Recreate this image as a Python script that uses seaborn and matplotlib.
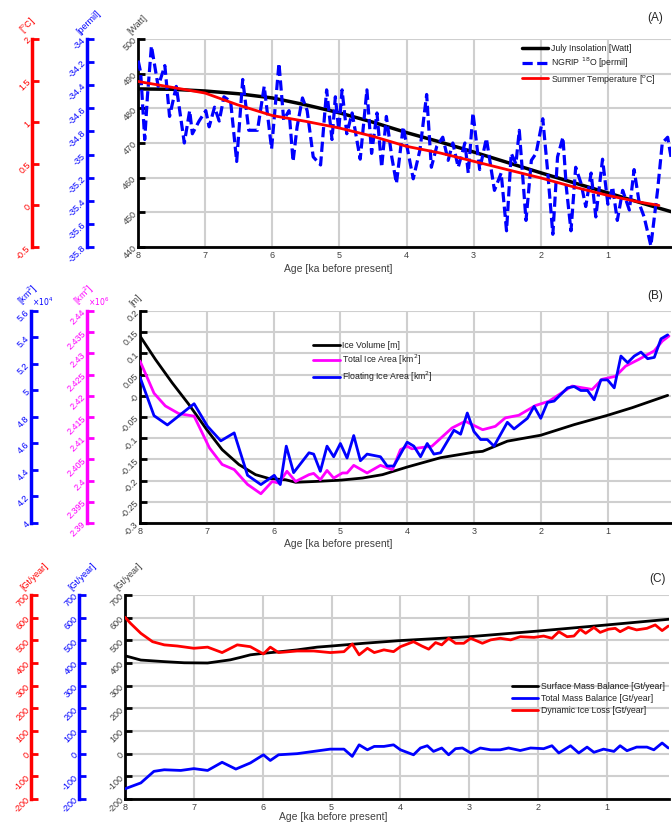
import numpy as np
import matplotlib
matplotlib.use("Agg")
import matplotlib.pyplot as plt
import seaborn as sns
from matplotlib.ticker import FuncFormatter

# ---------------- panel A data
ins_age = [8, 7.5, 7, 6.5, 6, 5.5, 5, 4.5, 4, 3.5, 3, 2.5, 2, 1.5, 1, 0.5, 0.06]
ins_watt = [485.6, 485.5, 485.0, 484.2, 483.0, 481.0, 478.7, 476.0, 473.0, 470.3,
            467.4, 464.4, 461.4, 458.5, 455.6, 452.7, 450.2]

ngrip_age = [8.0, 7.96, 7.90, 7.86, 7.80, 7.70, 7.60, 7.53, 7.43, 7.31,
             7.23, 7.19, 7.09, 6.99, 6.94, 6.86, 6.79, 6.72, 6.62, 6.53,
             6.44, 6.35, 6.22, 6.12, 6.01, 5.90, 5.83, 5.75, 5.69, 5.63,
             5.55, 5.48, 5.39, 5.28, 5.19, 5.11, 5.06, 5.01, 4.96, 4.89,
             4.81, 4.69, 4.59, 4.52, 4.44, 4.37, 4.30, 4.22, 4.15, 4.05,
             3.90, 3.80, 3.70, 3.63, 3.55, 3.46, 3.38, 3.31, 3.23, 3.13,
             3.08, 3.01, 2.91, 2.81, 2.69, 2.59, 2.51, 2.44, 2.37, 2.32,
             2.22, 2.14, 2.07, 1.97, 1.90, 1.82, 1.75, 1.67, 1.62, 1.55,
             1.48, 1.40, 1.33, 1.25, 1.18, 1.08, 1.00, 0.93, 0.86, 0.78,
             0.68, 0.61, 0.53, 0.46, 0.36, 0.26, 0.19, 0.11, 0.06]
ngrip_permil = [-34.18, -34.29, -34.87, -34.50, -34.06, -34.41, -34.23, -34.67, -34.41, -34.90,
                -34.62, -34.82, -34.71, -34.62, -34.76, -34.59, -34.71, -34.50, -34.54, -35.06,
                -34.35, -34.79, -34.79, -34.41, -34.95, -34.21, -34.70, -34.62, -35.06, -34.76,
                -34.51, -34.62, -35.02, -35.09, -34.44, -34.87, -34.50, -34.79, -34.44, -34.82,
                -34.64, -35.04, -34.44, -34.99, -34.64, -35.11, -34.67, -35.02, -35.25, -34.76,
                -35.21, -34.96, -34.48, -35.11, -34.93, -34.85, -35.05, -34.90, -35.11, -34.90,
                -35.16, -34.64, -35.13, -34.86, -35.31, -35.16, -35.66, -34.99, -35.08, -34.79,
                -35.57, -35.05, -34.99, -34.69, -35.13, -35.69, -35.02, -34.85, -35.28, -35.66,
                -35.11, -35.25, -35.45, -35.16, -35.54, -35.04, -35.43, -35.28, -35.57, -35.31,
                -35.48, -35.13, -35.43, -35.54, -35.79, -35.31, -34.90, -34.85, -35.02]

temp_age = [8.0, 7.5, 7.0, 6.52, 6.12, 6.0, 5.5, 5.0, 4.5, 4.0, 3.5, 3.0, 2.5, 2.0, 1.5, 1.0, 0.53, 0.24]
temp_c = [1.49, 1.42, 1.35, 1.21, 1.11, 1.08, 1.01, 0.93, 0.83, 0.71, 0.63, 0.53, 0.43,
          0.33, 0.22, 0.12, 0.04, 0.00]

# ---------------- panel B data
vol_age = [8.0, 7.77, 7.52, 7.27, 7.0, 6.77, 6.52, 6.27, 6.07, 5.82, 5.67, 5.37, 5.0,
           4.67, 4.37, 4.0, 3.5, 3.0, 2.87, 2.5, 2.0, 1.5, 1.0, 0.63, 0.1]
ice_volume = [0.141, 0.086, 0.031, -0.020, -0.080, -0.127, -0.162, -0.186, -0.195, -0.198,
              -0.204, -0.202, -0.199, -0.194, -0.186, -0.168, -0.146, -0.133, -0.131, -0.107,
              -0.093, -0.068, -0.046, -0.028, 0.001]

area_age = [8.0, 7.79, 7.62, 7.42, 7.19, 6.96, 6.77, 6.59, 6.39, 6.19,
            6.02, 5.92, 5.80, 5.67, 5.47, 5.40, 5.30, 5.20, 5.10, 4.97,
            4.90, 4.80, 4.60, 4.40, 4.22, 4.10, 4.0, 3.93, 3.63, 3.33,
            3.13, 2.87, 2.68, 2.53, 2.33, 2.08, 1.88, 1.53, 1.23, 1.08,
            0.88, 0.73, 0.53, 0.30, 0.18, 0.08]
total_area_1e6 = [2.4282, 2.4206, 2.4176, 2.4158, 2.4152, 2.4077, 2.4038, 2.4026, 2.3991, 2.3969,
                  2.3998, 2.3994, 2.4022, 2.3998, 2.4014, 2.4017, 2.4002, 2.4024, 2.4006, 2.4018,
                  2.4018, 2.4036, 2.4018, 2.4036, 2.4026, 2.4073, 2.4081, 2.4075, 2.4081, 2.4124,
                  2.4140, 2.4120, 2.4128, 2.4148, 2.4154, 2.4177, 2.4187, 2.4223, 2.4215, 2.4239,
                  2.4246, 2.4270, 2.4286, 2.4306, 2.4329, 2.4341]

float_age = [8.0, 7.79, 7.59, 7.39, 7.19, 6.99, 6.79, 6.59, 6.39, 6.19,
             5.99, 5.90, 5.81, 5.70, 5.47, 5.40, 5.30, 5.20, 5.10, 5.0,
             4.90, 4.80, 4.70, 4.60, 4.40, 4.30, 4.20, 4.0, 3.90, 3.80,
             3.70, 3.60, 3.50, 3.30, 3.20, 3.10, 3.00, 2.90, 2.80, 2.70,
             2.50, 2.40, 2.20, 2.10, 2.00, 1.90, 1.80, 1.60, 1.50, 1.40,
             1.30, 1.20, 1.10, 1.00, 0.90, 0.80, 0.70, 0.60, 0.50, 0.40,
             0.30, 0.20, 0.10]
floating_area_1e4 = [5.10, 4.81, 4.74, 4.82, 4.90, 4.73, 4.62, 4.68, 4.36, 4.29,
                     4.36, 4.29, 4.58, 4.38, 4.53, 4.52, 4.39, 4.58, 4.50, 4.60,
                     4.49, 4.66, 4.47, 4.52, 4.50, 4.43, 4.43, 4.61, 4.58, 4.50,
                     4.60, 4.52, 4.53, 4.70, 4.67, 4.83, 4.69, 4.63, 4.63, 4.58,
                     4.76, 4.71, 4.79, 4.88, 4.79, 4.91, 4.92, 5.02, 5.03, 5.00,
                     5.00, 4.93, 5.08, 5.08, 5.02, 5.26, 5.21, 5.26, 5.29, 5.24,
                     5.25, 5.39, 5.42]

# ---------------- panel C data
smb_age = [8.0, 7.77, 7.43, 7.14, 6.80, 6.47, 6.32, 6.18, 5.98, 5.74, 5.50, 5.21, 5.00,
           4.53, 4.0, 3.0, 2.0, 1.0, 0.1]
smb = [432, 413, 406, 401, 400, 414, 425, 436, 443, 450, 458, 470, 475, 487, 499, 516, 541, 568, 593]

dil_age = [8.0, 7.92, 7.77, 7.6, 7.43, 7.24, 7.0, 6.80, 6.59, 6.37,
           6.18, 5.99, 5.89, 5.77, 5.50, 5.26, 5.02, 4.82, 4.70, 4.60,
           4.48, 4.38, 4.24, 4.10, 4.0, 3.81, 3.69, 3.59, 3.49, 3.40,
           3.30, 3.20, 3.08, 2.98, 2.81, 2.69, 2.55, 2.40, 2.26, 2.06,
           1.92, 1.80, 1.70, 1.58, 1.48, 1.39, 1.31, 1.19, 1.10, 0.98,
           0.88, 0.81, 0.69, 0.57, 0.42, 0.30, 0.20, 0.11]
dil = [602, 575, 531, 494, 480, 475, 465, 470, 446, 480,
       472, 440, 470, 446, 453, 453, 446, 450, 484, 436,
       465, 446, 458, 450, 472, 494, 475, 461, 490, 480,
       509, 487, 487, 509, 487, 502, 509, 502, 516, 513,
       519, 509, 538, 516, 519, 549, 531, 557, 535, 549,
       553, 538, 557, 546, 553, 568, 543, 563]

tmb_age = [8.0, 7.77, 7.58, 7.43, 7.19, 7.0, 6.80, 6.59, 6.39, 6.18,
           5.99, 5.89, 5.77, 5.50, 5.26, 5.02, 4.82, 4.70, 4.60, 4.48,
           4.38, 4.24, 4.10, 4.0, 3.81, 3.71, 3.61, 3.52, 3.40, 3.30,
           3.20, 3.10, 2.98, 2.84, 2.69, 2.55, 2.43, 2.26, 2.11, 1.92,
           1.80, 1.70, 1.53, 1.41, 1.29, 1.19, 1.05, 0.90, 0.81, 0.71,
           0.57, 0.42, 0.32, 0.20, 0.11]
tmb = [-155, -129, -78, -71, -74, -66, -74, -38, -68, -41,
       -5, -30, -5, 0, 10, 20, 20, -12, 39, 17,
       32, 32, 39, 17, -5, 25, 35, 10, 25, -5,
       22, 25, 3, 25, 17, 17, 25, 14, 25, 22,
       35, 3, 35, 3, 29, 6, 20, 10, 35, 13,
       29, 29, 17, 47, 25]

sns.set_style("white")
plt.rcParams['font.family'] = ['Liberation Sans', 'DejaVu Sans']
plt.rcParams['axes.unicode_minus'] = False

W, H = 672, 826
fig = plt.figure(figsize=(W / 100, H / 100), dpi=100)
GREY = '#404040'
gfmt = FuncFormatter(lambda v, p: f'{v:g}')


def rot_labels(ax):
    for t in ax.get_yticklabels():
        t.set_rotation(45)
        t.set_rotation_mode('anchor')
        t.set_ha('right')
        t.set_va('center')


def main_axes(px, xlim, ylim, yticks, unit, xlab):
    l, t, r, b = px
    ax = fig.add_axes([l / W, 1 - b / H, (r - l) / W, (b - t) / H])
    ax.wpx, ax.hpx = r - l, b - t
    ax.set_xlim(xlim)
    ax.set_ylim(ylim)
    ax.set_xticks(range(1, 9))
    ax.set_yticks(yticks)
    ax.xaxis.set_major_formatter(gfmt)
    ax.yaxis.set_major_formatter(gfmt)
    ax.set_axisbelow(True)
    ax.grid(True, color='#cfcfcf', lw=1.5)
    for s in ['top', 'right']:
        ax.spines[s].set_visible(False)
    for s in ['left', 'bottom']:
        ax.spines[s].set_color('black')
        ax.spines[s].set_linewidth(2)
    ax.tick_params(direction='in', length=5, width=2, color='black',
                   labelcolor=GREY, labelsize=6.5)
    ax.tick_params(axis='y', pad=2)
    ax.tick_params(axis='x', pad=3)
    rot_labels(ax)
    ax.set_xlabel('Age [ka before present]', fontsize=7.5, color=GREY)
    ax.xaxis.set_label_coords(xlab[0], xlab[1])
    ax.text(-6 / ax.wpx, 1 + 3 / ax.hpx, unit, transform=ax.transAxes, rotation=45,
            rotation_mode='anchor', ha='left', va='bottom', fontsize=6.5, color=GREY)
    return ax


def side_axis(ax, xpx, ylim, yticks, color, unit, offset=None):
    pos = xpx / ax.wpx
    tw = ax.twinx()
    for s in ['top', 'right', 'bottom']:
        tw.spines[s].set_visible(False)
    tw.spines['left'].set_visible(True)
    tw.spines['left'].set_position(('axes', pos))
    tw.spines['left'].set_color(color)
    tw.spines['left'].set_linewidth(2.5)
    tw.yaxis.set_ticks_position('left')
    tw.set_ylim(ylim)
    tw.set_yticks(yticks)
    tw.yaxis.set_major_formatter(gfmt)
    tw.tick_params(axis='y', direction='in', length=5, width=2, colors=color,
                   labelsize=6.5, pad=2)
    rot_labels(tw)
    tw.text(pos - 6 / ax.wpx, 1 + 3 / ax.hpx, unit, transform=tw.transAxes, rotation=45,
            rotation_mode='anchor', ha='left', va='bottom', fontsize=6.5, color=color)
    if offset:
        tw.text(pos + 1 / ax.wpx, 1 + 3 / ax.hpx, offset, transform=tw.transAxes,
                ha='left', va='bottom', fontsize=5.5, color=color)
    return tw


def legend(ax, handles, labels, x, y):
    ax.legend(handles, labels, loc='upper left', bbox_to_anchor=(x, y), fontsize=6.3,
              frameon=False, handlelength=3.0, handletextpad=0.3, labelspacing=0.3,
              borderaxespad=0, borderpad=0.2, labelcolor='#222222')


# ---------------- (A)
axA = main_axes((138, 39, 671, 247), (8, 0.06), (440, 500), np.arange(440, 501, 10),
                '[Watt]', (0.375, -0.08))
twA_b = side_axis(axA, 87 - 138, (-35.8, -34), np.round(np.arange(-35.8, -33.99, 0.2), 1),
                  'blue', '[permil]')
twA_r = side_axis(axA, 32 - 138, (-0.5, 2), np.arange(-0.5, 2.01, 0.5), 'red', '[$^o$C]')
sns.lineplot(x=ins_age, y=ins_watt, ax=axA, color='black', lw=2.5, legend=False)
sns.lineplot(x=ngrip_age, y=ngrip_permil, ax=twA_b, color='blue', lw=2.3, legend=False,
             linestyle=(0, (3.2, 1.4)))
sns.lineplot(x=temp_age, y=temp_c, ax=twA_r, color='red', lw=2.0, legend=False)
legend(twA_r, [axA.lines[0], twA_b.lines[0], twA_r.lines[0]],
       ['July Insolation [Watt]', 'NGRIP $^{18}$O [permil]', 'Summer Temperature [$^o$C]'],
       0.717, 0.985)
fig.text(655 / W, 1 - 18 / H, '(A)', fontsize=8.5, ha='center', va='center')

# ---------------- (B)
axB = main_axes((140, 311, 671, 523), (8, 0.05), (-0.3, 0.2),
                np.round(np.arange(-0.3, 0.201, 0.05), 2), '[m]', (0.373, -0.075))
twB_m = side_axis(axB, 87 - 140, (2.39, 2.44), np.round(np.arange(2.39, 2.4401, 0.005), 3),
                  '#ff00ff', '[km$^2$]', r'$\times10^6$')
twB_b = side_axis(axB, 31 - 140, (4, 5.6), np.round(np.arange(4, 5.601, 0.2), 1),
                  'blue', '[km$^2$]', r'$\times10^4$')
sns.lineplot(x=vol_age, y=ice_volume, ax=axB, color='black', lw=2.0, legend=False)
sns.lineplot(x=area_age, y=total_area_1e6, ax=twB_m, color='#ff00ff', lw=2.0, legend=False)
sns.lineplot(x=float_age, y=floating_area_1e4, ax=twB_b, color='blue', lw=2.0, legend=False)
legend(twB_b, [axB.lines[0], twB_m.lines[0], twB_b.lines[0]],
       ['Ice Volume [m]', 'Total Ice Area [km$^2$]', 'Floating Ice Area [km$^2$]'],
       0.323, 0.865)
fig.text(655 / W, 1 - 296 / H, '(B)', fontsize=8.5, ha='center', va='center')

# ---------------- (C)
axC = main_axes((125, 595, 669, 799), (8, 0.1), (-200, 700), np.arange(-200, 701, 100),
                '[Gt/year]', (0.382, -0.065))
twC_b = side_axis(axC, 79 - 125, (-200, 700), np.arange(-200, 701, 100), 'blue', '[Gt/year]')
twC_r = side_axis(axC, 31 - 125, (-200, 700), np.arange(-200, 701, 100), 'red', '[Gt/year]')
sns.lineplot(x=smb_age, y=smb, ax=axC, color='black', lw=2.0, legend=False)
sns.lineplot(x=tmb_age, y=tmb, ax=twC_b, color='blue', lw=2.0, legend=False)
sns.lineplot(x=dil_age, y=dil, ax=twC_r, color='red', lw=2.0, legend=False)
legend(twC_r, [axC.lines[0], twC_b.lines[0], twC_r.lines[0]],
       ['Surface Mass Balance [Gt/year]', 'Total Mass Balance [Gt/year]',
        'Dynamic Ice Loss [Gt/year]'],
       0.708, 0.58)
fig.text(657 / W, 1 - 579 / H, '(C)', fontsize=8.5, ha='center', va='center')

for a in (axA, axB, axC):
    a.set_ylabel('')

fig.savefig('out.png', dpi=100)
